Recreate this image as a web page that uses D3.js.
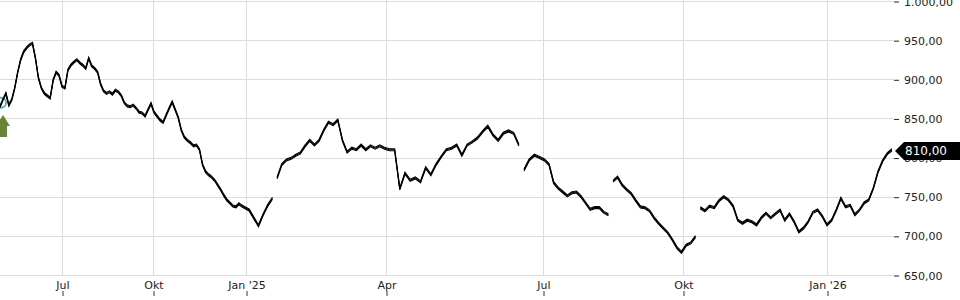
<!DOCTYPE html>
<html>
<head>
<meta charset="utf-8">
<script src="https://cdn.jsdelivr.net/npm/d3@7"></script>
<style>
body { margin: 0; background: #fff; }
svg { display: block; font-family: "DejaVu Sans", sans-serif; }
</style>
</head>
<body>
<div id="graph"></div>
<script>
(function(){
"use strict";

// axis anchors: the chart squeezes 2024 tighter than 2025 (session based axis)
var anchorDates = ["2024-04-29", "2024-07-01", "2024-10-01", "2025-01-01", "2025-04-01", "2025-07-01", "2025-10-01", "2026-01-01", "2026-02-13"];
var anchorPx = [0, 62, 153, 246, 386, 543, 683, 827, 893.5];

var tickDates = ["2024-07-01", "2024-10-01", "2025-01-01", "2025-04-01", "2025-07-01", "2025-10-01", "2026-01-01"];
var tickLabels = ["Jul", "Okt", "Jan '25", "Apr", "Jul", "Okt", "Jan '26"];
var yTicks = [650, 700, 750, 800, 850, 900, 950, 1000];

// one close every 3 days from startDate
var startDate = "2024-04-29";
var stepDays = 3;
var closes2024 = [
	865, 874, 882, 867, 874, 889, 909, 925, 935, 940, 944, 946, 927, 902, 889, 882, 879, 876, 899, 909, 905, 891,
	889, 912, 918, 922, 925, 921, 918, 914, 927, 917, 914, 909, 894, 885, 882, 884, 881, 886, 884, 879, 870, 866,
	865, 867, 863, 858, 857, 853, 861, 869,
	858, 853, 848, 845, 854, 863, 871, 861, 851, 835, 826, 822, 819, 815, 816, 810, 791, 782, 778, 775, 771, 765,
	759, 752, 746, 742, 738, 737, 741, 738, 736
];
var closes2025a = [
	733, 723, 713, 727, 739, 748, 774, 791, 797, 799, 803, 806, 815, 822, 816, 822, 835, 845, 842, 848, 822, 807,
	812, 810, 816, 810, 815, 812, 815, 812,
	810, 810, 760, 780, 771, 774, 769, 787, 778, 791, 801, 810, 812, 816, 803, 816, 820, 825, 833, 840, 829, 822,
	831, 834, 831, 816, 784, 797, 803, 800
];
var closes2025b = [
	797, 791, 768, 761, 756, 751, 755, 756, 750, 742, 734, 736, 736, 730, 727, 770, 775, 765, 759, 754, 745, 737,
	736, 732, 723, 716, 710, 704, 695, 685, 679,
	688, 691, 699, 736, 732, 738, 736, 745, 750, 746, 738, 720, 716, 720, 718, 714, 723, 729, 723, 728, 733, 720,
	728, 718, 705, 710, 718, 730, 733, 725, 714
];
var closes2026 = [720, 733, 748, 737, 739, 727, 733, 742, 746, 761, 782, 796, 805, 810];
// the feed has holes before these points, no line is drawn across them
var gapsBefore = [89, 139, 158, 177];
var lastPrice = 810;

var width = 960;
var height = 300;
var plotRight = 893.5;
var plotTop = 1;
var plotBottom = 275;

var parse = d3.utcParse("%Y-%m-%d");
var de = d3.formatLocale({decimal: ",", thousands: ".", grouping: [3], currency: ["", " €"]});
var fmt = de.format(",.2f");

var closes = closes2024.concat(closes2025a, closes2025b, closes2026);
var data = closes.map(function(v, i){
	return {date: d3.utcDay.offset(parse(startDate), i * stepDays), value: v};
});

// cut the series into pieces at the gaps
var pieces = [];
var from = 0;
gapsBefore.concat([data.length]).forEach(function(g){
	pieces.push(data.slice(from, g));
	from = g;
});

var x = d3.scaleUtc()
	.domain(anchorDates.map(parse))
	.range(anchorPx);
var y = d3.scaleLinear()
	.domain([650, 1000])
	.range([plotBottom, plotTop]);

var svg = d3.select('#graph')
	.append('svg')
		.attr('width', width)
		.attr('height', height);

// grid
svg.append('g')
	.selectAll('line')
	.data(yTicks)
	.enter()
	.append('line')
		.attr('x1', 0)
		.attr('x2', plotRight)
		.attr('y1', function(d){ return Math.round(y(d)) + 0.5; })
		.attr('y2', function(d){ return Math.round(y(d)) + 0.5; })
		.attr('stroke', '#dcdcdc');

svg.append('g')
	.selectAll('line')
	.data(tickDates)
	.enter()
	.append('line')
		.attr('x1', function(d){ return Math.round(x(parse(d))) + 0.5; })
		.attr('x2', function(d){ return Math.round(x(parse(d))) + 0.5; })
		.attr('y1', 0)
		.attr('y2', plotBottom)
		.attr('stroke', '#dcdcdc');

// right axis
var yAxis = d3.axisRight(y)
	.tickValues(yTicks)
	.tickFormat(fmt)
	.tickSize(5)
	.tickPadding(5);

svg.append('g')
	.attr('class', 'y')
	.attr('transform', 'translate(' + (plotRight + 0.5) + ',0.5)')
	.call(yAxis)
	.call(function(g){
		g.select('.domain').remove();
		g.selectAll('line').attr('stroke', '#222');
		g.selectAll('text')
			.attr('fill', '#222')
			.style('font-size', '11px')
			.style('font-family', '"DejaVu Sans", sans-serif');
	});

// bottom axis: labels only, tiny tick under them
var xAxis = d3.axisBottom(x)
	.tickValues(tickDates.map(parse))
	.tickFormat(function(d, i){ return tickLabels[i]; })
	.tickSize(5)
	.tickPadding(-15);

svg.append('g')
	.attr('class', 'x')
	.attr('transform', 'translate(0.5,291)')
	.call(xAxis)
	.call(function(g){
		g.select('.domain').remove();
		g.selectAll('line').attr('stroke', '#333');
		g.selectAll('text')
			.attr('fill', '#222')
			.style('font-size', '11px')
			.style('font-family', '"DejaVu Sans", sans-serif');
	});

// entry marker
svg.append('circle')
	.attr('cx', 1)
	.attr('cy', y(closes[0]) - 4)
	.attr('r', 5)
	.attr('fill', 'none')
	.attr('stroke', '#5aaebf')
	.attr('stroke-width', 2);

svg.append('path')
	.attr('d', 'M3,115 L10,126 L7,126 L7,137 L-1,137 L-1,126 L-4,126 Z')
	.attr('fill', '#6a8236');

// price line, drawn a little thick to look like the dense hi-lo bars
var line = d3.line()
	.x(function(d){ return x(d.date); })
	.y(function(d){ return y(d.value); });

[-1, 0, 1].forEach(function(off){
	svg.append('g')
		.attr('transform', 'translate(0,' + off + ')')
		.selectAll('path')
		.data(pieces)
		.enter()
		.append('path')
			.attr('d', line)
			.attr('fill', 'none')
			.attr('stroke', '#000')
			.attr('stroke-width', 1.1)
			.attr('stroke-linejoin', 'miter');
});

// last price tag
var ty = Math.round(y(lastPrice)) + 1;
svg.append('path')
	.attr('d', 'M895,' + ty + ' L904,' + (ty - 9) + ' L960,' + (ty - 9) + ' L960,' + (ty + 9) + ' L904,' + (ty + 9) + ' Z')
	.attr('fill', '#000');
svg.append('text')
	.attr('x', 905)
	.attr('y', ty)
	.attr('dy', '0.35em')
	.attr('fill', '#fff')
	.style('font-size', '12px')
	.text(fmt(lastPrice));

})();
</script>
</body>
</html>
